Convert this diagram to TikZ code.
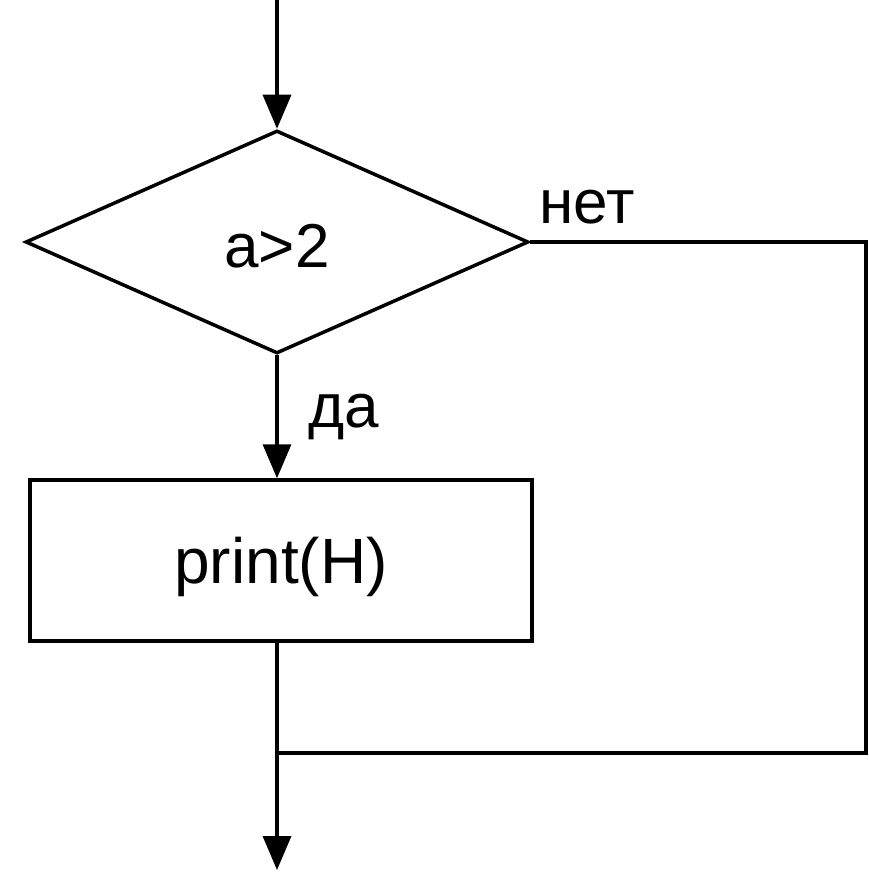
\documentclass[tikz,border=0pt]{standalone}
\usepackage{fontspec}
\setmainfont{Liberation Sans}
\usetikzlibrary{shapes.geometric,arrows.meta}
\begin{document}
\begin{tikzpicture}[x=1pt,y=-1pt,
  line width=3.5pt,
  txt/.style={font=\fontsize{62}{70}\selectfont, inner sep=0pt},
  arr/.style={-{Triangle[length=34pt,width=28pt]}},
  decision/.style={draw, shape=diamond, aspect=2.25, minimum width=503pt, minimum height=223pt, inner sep=0pt, text height=50pt, text depth=0pt, font=\fontsize{62}{70}\selectfont},
  process/.style={draw, rectangle, minimum width=502pt, minimum height=161pt, inner sep=0pt, text height=50pt, text depth=5pt, font=\fontsize{64}{72}\selectfont}]
\useasboundingbox (0,0) rectangle (869,872);
\coordinate (start) at (277,0);
\node[decision] (d) at (277,242) {a>2};
\node[process] (r) at (281,560.5) {print(H)};
\node[txt, anchor=base west] (no) at (538,223) {нет};
\node[txt, anchor=base west] (yes) at (307,427) {да};
\coordinate (corner) at (866,242);
\coordinate (join) at (277,753);
\coordinate (end) at (277,870);
\draw[arr] (start) -- (d.north);
\draw[arr] (d.south) -- (d.south |- r.north);
\draw (d.east) -- (corner) |- (join);
\draw (join |- r.south) -- (join);
\draw[arr] (join) -- (end);
\end{tikzpicture}
\end{document}
